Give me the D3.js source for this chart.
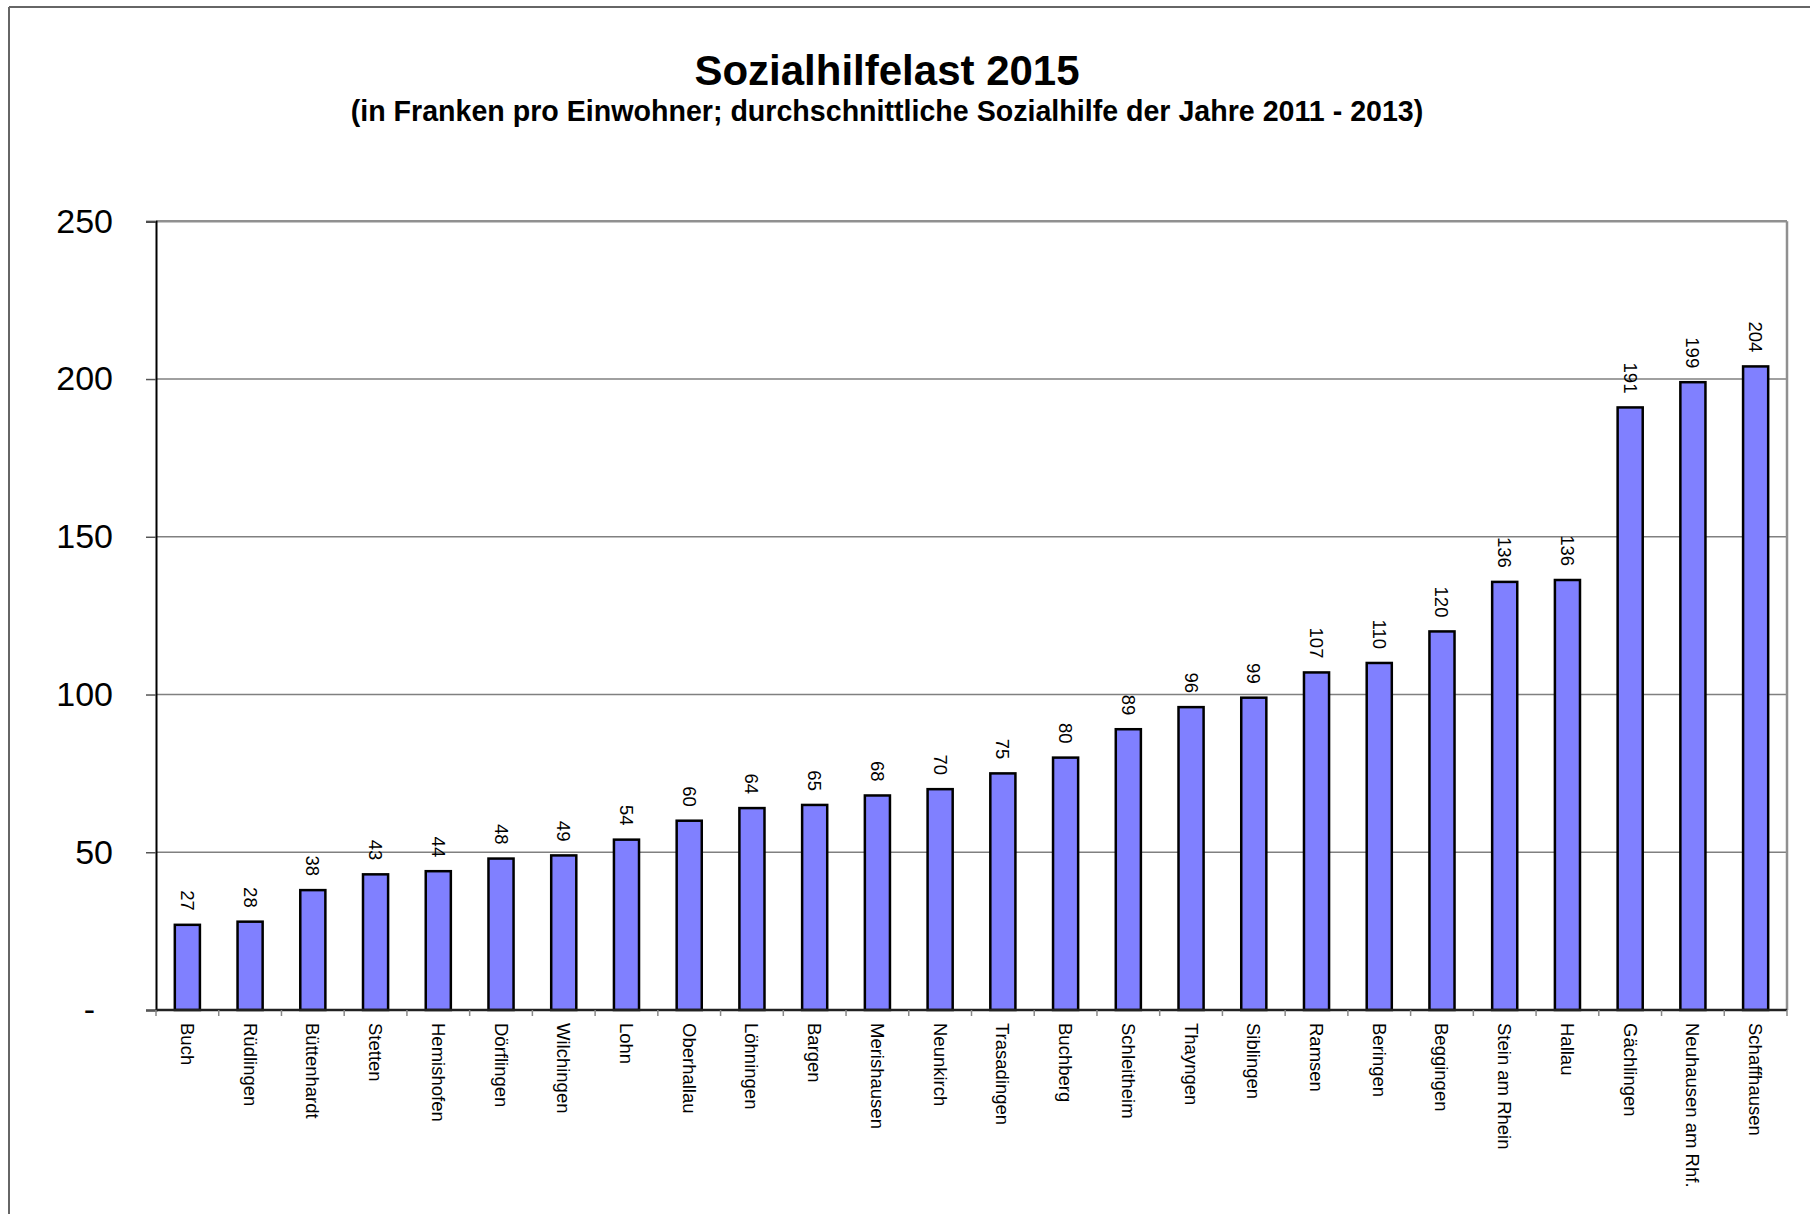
<!DOCTYPE html>
<html>
<head>
<meta charset="utf-8">
<script src="https://cdn.jsdelivr.net/npm/d3@7/dist/d3.min.js"></script>
<style>
  html, body { margin: 0; padding: 0; background: #fff; }
  svg { display: block; }
  text { font-family: "Liberation Sans", Arial, sans-serif; fill: #000; }
</style>
</head>
<body>
<svg id="chart" width="1810" height="1214"></svg>
<script>
const titleText = "Sozialhilfelast 2015";
const subtitleText = "(in Franken pro Einwohner; durchschnittliche Sozialhilfe der Jahre 2011 - 2013)";
const categories = ["Buch", "Rüdlingen", "Büttenhardt", "Stetten", "Hemishofen", "Dörflingen",
  "Wilchingen", "Lohn", "Oberhallau", "Löhningen", "Bargen", "Merishausen", "Neunkirch",
  "Trasadingen", "Buchberg", "Schleitheim", "Thayngen", "Siblingen", "Ramsen", "Beringen",
  "Beggingen", "Stein am Rhein", "Hallau", "Gächlingen", "Neuhausen am Rhf.", "Schaffhausen"];
const values = [27, 28, 38, 43, 44, 48, 49, 54, 60, 64, 65, 68, 70, 75, 80, 89, 96, 99, 107, 110,
  120, 135.7, 136.3, 191, 199, 204];
const yTicks = [0, 50, 100, 150, 200, 250];

const svg = d3.select("#chart");
const W = 1810, H = 1214;
const m = { left: 156, right: 1787, top: 221.3, bottom: 1010 };

// outer frame (top and left edges visible)
svg.append("line").attr("x1", 9).attr("y1", 7).attr("x2", W).attr("y2", 7)
  .attr("stroke", "#666").attr("stroke-width", 2);
svg.append("line").attr("x1", 9).attr("y1", 7).attr("x2", 9).attr("y2", H)
  .attr("stroke", "#666").attr("stroke-width", 2);

// titles
svg.append("text").attr("x", 887).attr("y", 85).attr("text-anchor", "middle")
  .attr("font-size", 42).attr("font-weight", "bold").text(titleText);
svg.append("text").attr("x", 887).attr("y", 121).attr("text-anchor", "middle")
  .attr("font-size", 28.6).attr("font-weight", "bold").text(subtitleText);

const x = d3.scaleBand().domain(categories).range([m.left, m.right])
  .paddingInner(0.6).paddingOuter(0.3);
const y = d3.scaleLinear().domain([0, 250]).range([m.bottom, m.top]);

// gridlines
svg.append("g").selectAll("line").data(yTicks.filter(d => d > 0 && d < 250)).join("line")
  .attr("x1", m.left).attr("x2", m.right)
  .attr("y1", d => y(d)).attr("y2", d => y(d))
  .attr("stroke", "#808080").attr("stroke-width", 1.5);
// plot area top & right border
svg.append("line").attr("x1", m.left).attr("x2", m.right).attr("y1", y(250)).attr("y2", y(250))
  .attr("stroke", "#909090").attr("stroke-width", 2.5);
svg.append("line").attr("x1", m.right).attr("x2", m.right).attr("y1", y(250)).attr("y2", m.bottom)
  .attr("stroke", "#909090").attr("stroke-width", 2.5);

// bars
svg.append("g").selectAll("rect").data(values).join("rect")
  .attr("x", (d, i) => x(categories[i]))
  .attr("width", x.bandwidth())
  .attr("y", d => y(d))
  .attr("height", d => y(0) - y(d))
  .attr("fill", "#8080FF")
  .attr("stroke", "#000")
  .attr("stroke-width", 2.5);

// value labels
svg.append("g").selectAll("text").data(values).join("text")
  .attr("transform", (d, i) => `translate(${x(categories[i]) + x.bandwidth() / 2},${y(d) - 14}) rotate(90)`)
  .attr("text-anchor", "end")
  .attr("dominant-baseline", "central")
  .attr("font-size", 18.5)
  .text(d => d3.format(".0f")(d));

// y axis
const yAxis = d3.axisLeft(y).tickValues(yTicks).tickSize(10).tickPadding(33)
  .tickFormat(d => d === 0 ? "-" : d);
const gy = svg.append("g").attr("transform", `translate(${m.left},0)`).call(yAxis);
gy.select(".domain").attr("stroke", "#000").attr("stroke-width", 2);
gy.selectAll(".tick line").attr("stroke", "#555").attr("stroke-width", 1.5);
gy.selectAll(".tick text").attr("font-size", 34).attr("fill", "#000")
  .attr("font-family", "'Liberation Sans', Arial, sans-serif")
  .attr("dx", d => d === 0 ? -18 : 0);

// x axis baseline and ticks at category boundaries
svg.append("line").attr("x1", m.left).attr("x2", m.right).attr("y1", m.bottom).attr("y2", m.bottom)
  .attr("stroke", "#222").attr("stroke-width", 2.5);
const bounds = categories.map(c => x(c) - x.step() * x.paddingOuter()).concat([m.right]);
svg.append("g").selectAll("line").data(bounds).join("line")
  .attr("x1", d => d).attr("x2", d => d)
  .attr("y1", m.bottom).attr("y2", m.bottom + 6)
  .attr("stroke", "#888").attr("stroke-width", 1.5);

// category labels
svg.append("g").selectAll("text").data(categories).join("text")
  .attr("transform", d => `translate(${x(d) + x.bandwidth() / 2},${m.bottom + 13}) rotate(90)`)
  .attr("text-anchor", "start")
  .attr("dominant-baseline", "central")
  .attr("font-size", 18.5)
  .text(d => d);
</script>
</body>
</html>
